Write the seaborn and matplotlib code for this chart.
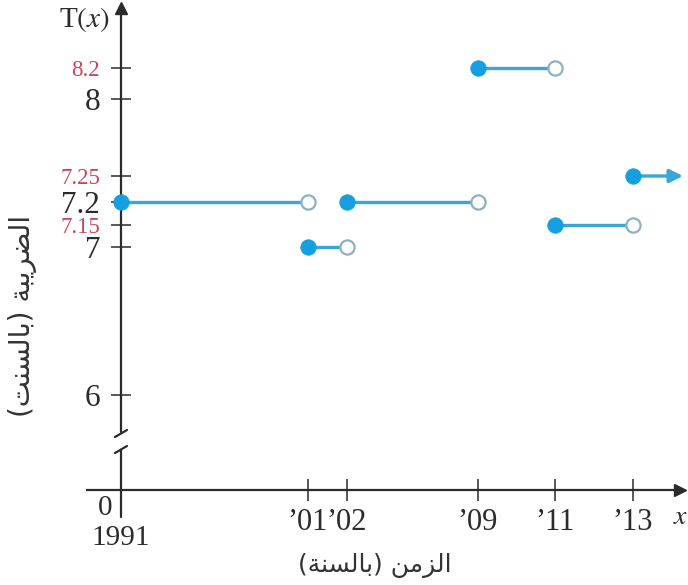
import numpy as np
import pandas as pd
import matplotlib
matplotlib.use("Agg")
import matplotlib.pyplot as plt
import seaborn as sns

# ---- data (step function of the tax, cents) ----
seg_start = [1991, 2001, 2002, 2009, 2011, 2013]
seg_end   = [2001, 2002, 2009, 2011, 2013, 2014.3]
tax_cents = [7.2, 7.0, 7.2, 8.2, 7.15, 7.25]
year_ticks  = [2001, 2002, 2009, 2011, 2013]
year_labels = ["’01", "’02", "’09", "’11", "’13"]
tax_ticks_black = [6, 7, 7.2, 8]
tax_ticks_red   = [7.15, 7.25, 8.2]

# Arabic labels, pre-shaped in visual order (matplotlib does no bidi/shaping)
XLABEL = "(" + "\uFE94\uFEE8\uFEB4\uFEDF\uFE8E\uFE91" + ") " + "\uFEE6\uFEE3\uFEB0\uFEDF\uFE8D"
YLABEL = "(" + "\uFE96\uFEE8\uFEB4\uFEDF\uFE8E\uFE91" + ") " + "\uFE94\uFE92\uFEF3\uFEAE\uFEC0\uFEDF\uFE8D"

BLUE, LINE, OPEN_EDGE = "#149fe0", "#3aa5d6", "#8db1be"
RED, AX = "#c9475c", "#2b2b2b"

# the textbook figure is not drawn to scale -> piecewise scales
XK_VAL = [1980, 1991, 2001, 2002, 2009, 2011, 2013, 2020]
XK_POS = [-85, 121, 308, 347, 478, 555, 633, 902]
YK_VAL = [-5, 0, 6, 7, 7.15, 7.2, 7.25, 8, 8.2, 10]
YK_POS = [-569, -490, -395, -247, -225, -202, -176, -99, -68, 198]

fx = lambda v: np.interp(v, XK_VAL, XK_POS)
ix = lambda p: np.interp(p, XK_POS, XK_VAL)
fy = lambda v: np.interp(v, YK_VAL, YK_POS)
iy = lambda p: np.interp(p, YK_POS, YK_VAL)

sns.set_style("white")
plt.rcParams["font.family"] = ["Liberation Serif", "DejaVu Sans"]
plt.rcParams["mathtext.fontset"] = "stix"

W, H = 688, 585
fig = plt.figure(figsize=(W / 100, H / 100), dpi=100)
ax = fig.add_axes([87 / W, 1 - 517 / H, (680 - 87) / W, (517 - 8) / H])
ax.set_xscale("function", functions=(fx, ix))
ax.set_yscale("function", functions=(fy, iy))
ax.set_xlim(ix(87), ix(680))
ax.set_ylim(iy(-517), iy(-8))
ax.patch.set_alpha(0)

# segments
rows = []
for i, (s, e, v) in enumerate(zip(seg_start[:-1], seg_end[:-1], tax_cents[:-1])):
    rows += [{"seg": i, "year": s, "tax": v}, {"seg": i, "year": e, "tax": v}]
df = pd.DataFrame(rows)
sns.lineplot(data=df, x="year", y="tax", units="seg", estimator=None,
             color=LINE, lw=2.4, ax=ax, legend=False)
ax.annotate("", xy=(seg_end[-1], tax_cents[-1]), xytext=(seg_start[-1], tax_cents[-1]),
            arrowprops=dict(arrowstyle="-|>", color=LINE, lw=2.4,
                            mutation_scale=20, shrinkA=0, shrinkB=0),
            annotation_clip=False)

sns.scatterplot(x=seg_end[:-1], y=tax_cents[:-1], s=105, color="white",
                edgecolor=OPEN_EDGE, linewidth=1.6, zorder=4, ax=ax, clip_on=False)
sns.scatterplot(x=seg_start, y=tax_cents, s=125, color=BLUE,
                edgecolor=BLUE, linewidth=0.5, zorder=5, ax=ax, clip_on=False)

# axes
for sp in ["top", "right", "left"]:
    ax.spines[sp].set_visible(False)
ax.spines["bottom"].set_position(("data", 0))
ax.spines["bottom"].set_color(AX)
ax.spines["bottom"].set_linewidth(1.6)
xt = ax.get_xaxis_transform()
frac = lambda px: (517 - px) / (517 - 8)
ax.plot([1991, 1991], [0, frac(450)], color=AX, lw=1.6, transform=xt, clip_on=False)
ax.plot([1991, 1991], [frac(432), 1], color=AX, lw=1.6, transform=xt, clip_on=False)
x0 = (121 - 87) / (680 - 87)
dx = 6 / (680 - 87)
ax.plot([x0 - dx, x0 + dx], [frac(437), frac(430)], color=AX, lw=1.6,
        transform=ax.transAxes, clip_on=False)
ax.plot([x0 - dx, x0 + dx], [frac(453), frac(446)], color=AX, lw=1.6,
        transform=ax.transAxes, clip_on=False)
ax.plot(1, 0, marker=">", ms=9, color=AX, transform=ax.get_yaxis_transform(), clip_on=False)
ax.plot(1991, 1, marker="^", ms=9, color=AX, transform=xt, clip_on=False)

ax.yaxis.set_ticks_position("left")
ax.spines["left"].set_position(("data", 1991))
ax.set_xticks(year_ticks, year_labels)
yt = sorted(tax_ticks_black + tax_ticks_red)
ax.set_yticks(yt, [f"{v:g}" for v in yt])
ax.minorticks_off()
ax.tick_params(axis="x", direction="inout", length=16, width=1.1, color=AX,
               labelsize=22, pad=5, labelcolor=AX, bottom=True)
ax.tick_params(axis="y", direction="inout", length=14, width=1.1, color=AX,
               labelsize=22.5, pad=8, labelcolor=AX, left=True)
for t, v in zip(ax.yaxis.get_major_ticks(), yt):
    if v in tax_ticks_red:
        t.tick1line.set_color(RED)
        t.label1.set_color(RED)
        t.label1.set_fontsize(16.5)
ax.set_xlabel("")
ax.set_ylabel("")

ax.annotate("T$(x)$", xy=(1991, 1), xycoords=xt, xytext=(-11, -12),
            textcoords="offset pixels", ha="right", va="center", fontsize=21, color=AX)
ax.annotate("$x$", xy=(1, 0), xycoords=ax.get_yaxis_transform(), xytext=(1, -28),
            textcoords="offset pixels", ha="center", va="center", fontsize=20, color=AX,
            annotation_clip=False)
ax.annotate("0", xy=(1991, 0), xytext=(-9, -18), textcoords="offset pixels",
            ha="right", va="center", fontsize=21, color=AX)
ax.annotate("1991", xy=(1991, 0), xytext=(0, -48), textcoords="offset pixels",
            ha="center", va="center", fontsize=21, color=AX, annotation_clip=False)

fig.text(375 / W, 1 - 565 / H, XLABEL, family="DejaVu Sans", fontsize=18,
         ha="center", va="center", color="#333333")
fig.text(23 / W, 1 - 316 / H, YLABEL, family="DejaVu Sans", fontsize=20,
         rotation=90, ha="center", va="center", color="#333333")

fig.savefig("out.png", dpi=100)
